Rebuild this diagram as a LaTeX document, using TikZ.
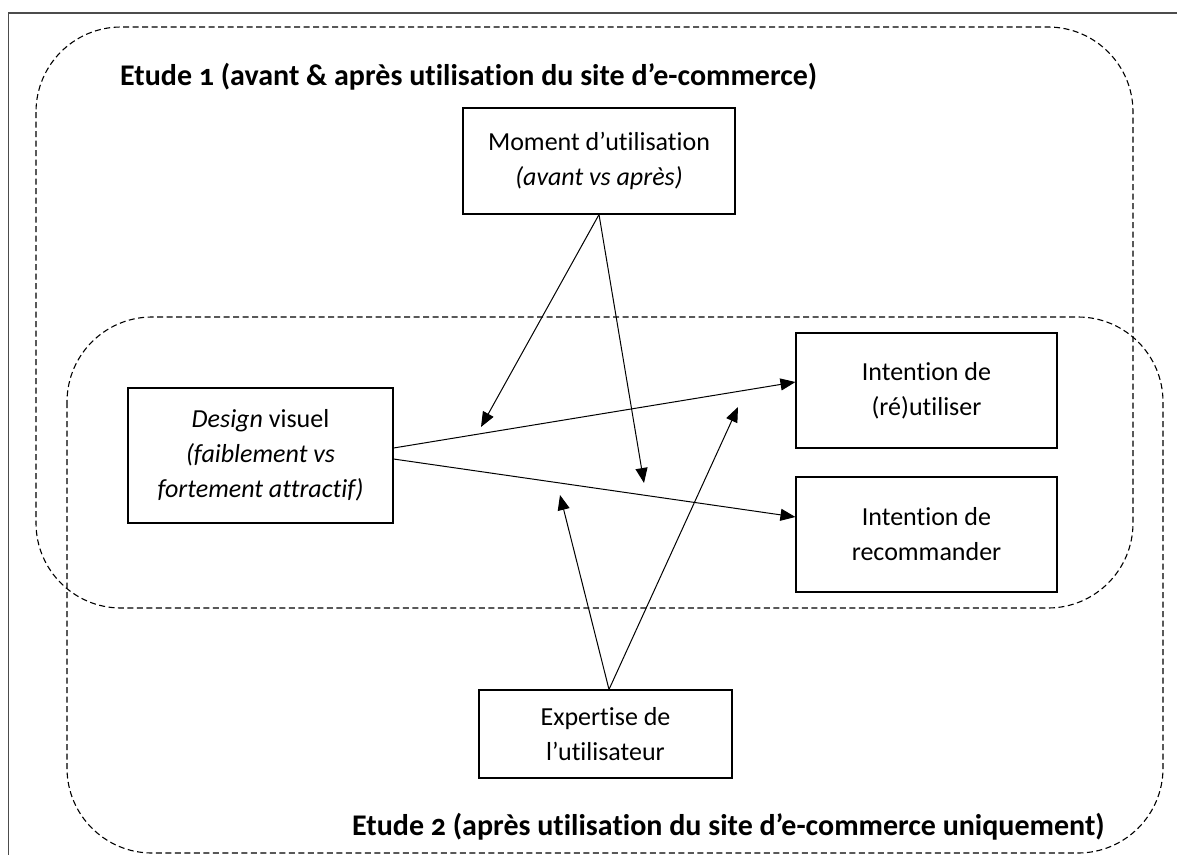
\documentclass[tikz,border=0pt]{standalone}
\usepackage{fontspec}
\setmainfont{Carlito}[Numbers=OldStyle,Ligatures=NoCommon]
\usetikzlibrary{arrows.meta,calc}
\begin{document}
\begin{tikzpicture}[x=1pt,y=-1pt,
  box/.style={draw,line width=1.1pt,inner sep=0pt,align=center,
    font=\fontsize{26}{35}\selectfont},
  frame/.style={draw,black,dash pattern=on 6pt off 3.5pt,line width=1.1pt,rounded corners=85pt},
  link/.style={-{Triangle[length=15pt,width=12pt]},line width=1pt},
  title/.style={anchor=base west,inner sep=0pt,font=\bfseries\fontsize{30}{32}\selectfont}]
\useasboundingbox (0,0) rectangle (1177,854);
\fill[white] (0,0) rectangle (1177,854);
% outer solid frame
\draw[line width=1.6pt,black!70] (8.5,860) -- (8.5,13) -- (1180,13);
% study groups
\draw[frame] (36,27) rectangle (1133,608);
\draw[frame] (67,317) rectangle (1163,853);
% titles
\node[title] (t1) at (120,85) {Etude 1 (avant \& après utilisation du site d’e-commerce)};
\node[title] (t2) at (352,835) {Etude 2 (après utilisation du site d’e-commerce uniquement)};
% boxes
\node[box,minimum width=272pt,minimum height=106pt] (moment) at (599,161)
  {Moment d’utilisation\\\textit{(avant vs après)}};
\node[box,minimum width=265pt,minimum height=135pt] (design) at (260.5,455.5)
  {\textit{Design} visuel\\\textit{(faiblement vs}\\\textit{fortement attractif)}};
\node[box,minimum width=261pt,minimum height=115pt] (reut) at (926.5,390.5)
  {Intention de\\(ré)utiliser};
\node[box,minimum width=261pt,minimum height=115pt] (recom) at (926.5,534.5)
  {Intention de\\recommander};
\node[box,minimum width=253pt,minimum height=88pt] (expert) at (605.5,734)
  {Expertise de\\l’utilisateur};
% connectors
\coordinate (d1) at ($(design.east)+(0,-7.5)$);
\coordinate (d2) at ($(design.east)+(0,3.5)$);
\coordinate (r1) at ($(reut.west)+(0,-8.5)$);
\coordinate (r2) at ($(recom.west)+(0,-17.5)$);
\draw[link] (d1) -- (r1);
\draw[link] (d2) -- (r2);
\coordinate (m1) at (481,427);
\coordinate (m2) at (644,483);
\draw[link] (moment.south) -- (m1);
\draw[link] (moment.south) -- (m2);
\coordinate (eapex) at ($(expert.north)+(3.5,0)$);
\coordinate (e1) at (560,495);
\coordinate (e2) at (738,407);
\draw[link] (eapex) -- (e1);
\draw[link] (eapex) -- (e2);
\end{tikzpicture}
\end{document}
